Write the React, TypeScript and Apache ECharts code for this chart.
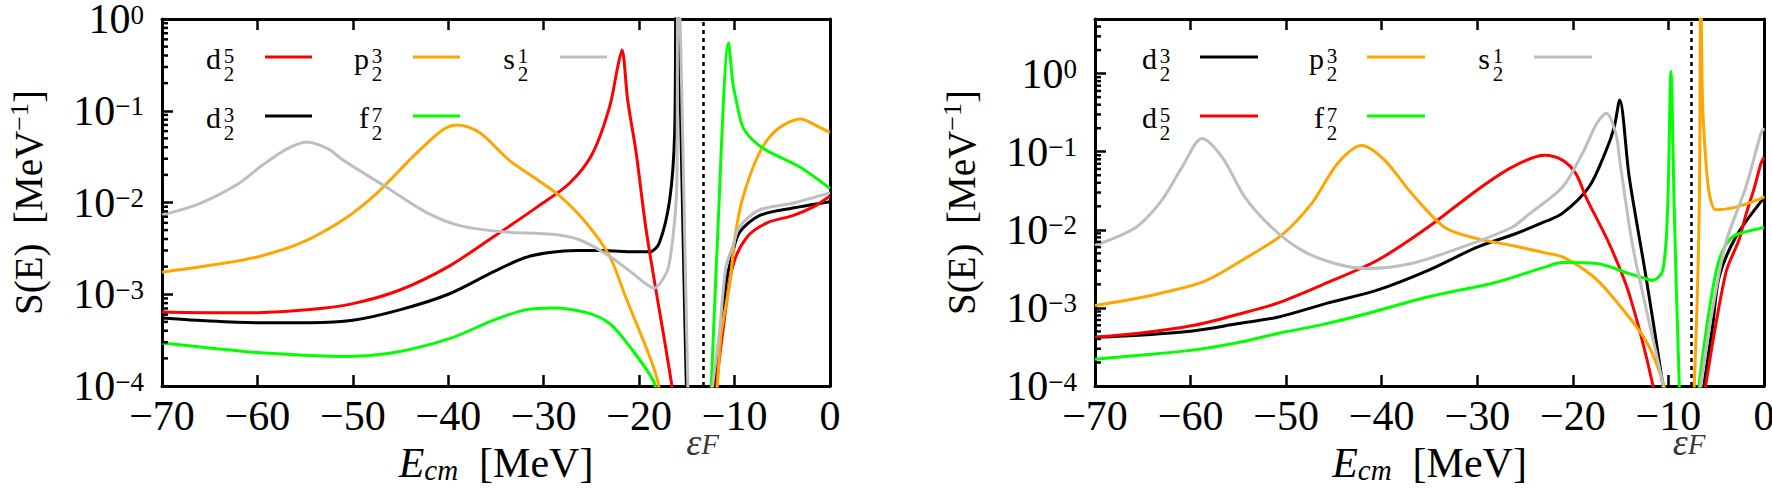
import React, { useEffect, useRef } from "react";
import * as echarts from "echarts";

const W = 1772;
const H = 489;
const FONT = "Liberation Serif";

// ---------------- data: [E_cm (MeV), S(E) (MeV^-1)] ----------------
// Left panel
const d52Left = [[-70,6.4e-4],[-65,6.3e-4],[-60,6.3e-4],[-54.5,6.8e-4],[-50,7.9e-4],[-45,1.12e-3],[-40,2.0e-3],[-35.3,4.2e-3],[-30.7,8.9e-3],[-27.3,0.0162],[-24.9,0.034],[-23.1,0.11],[-22.25,0.3],[-21.8,0.46],[-21.2,0.13],[-20.3,0.034],[-19.2,4.5e-3],[-16.6,1.05e-4],[-16.2,4e-5],[-12.2,4e-5],[-11.9,1e-4],[-11.25,3.8e-4],[-10.2,2.0e-3],[-8.7,4.2e-3],[-6.6,6.0e-3],[-3.9,7.2e-3],[-1.8,8.9e-3],[0,0.0118]];
const d32Left = [[-70,5.5e-4],[-65,5.1e-4],[-60,4.9e-4],[-54.5,4.9e-4],[-50,5.2e-4],[-45,6.8e-4],[-40,1.0e-3],[-35.3,1.75e-3],[-32,2.5e-3],[-29.4,2.85e-3],[-26.5,3.0e-3],[-23.8,3.0e-3],[-20.5,2.9e-3],[-18.9,2.9e-3],[-17.9,3.6e-3],[-16.8,0.0107],[-16.28,0.057],[-16.12,3],[-15.05,1e-4],[-14.9,4.5e-5],[-12.4,4.5e-5],[-12.1,1e-4],[-11.5,3.2e-4],[-10.9,1.3e-3],[-10.2,2.8e-3],[-9.5,4.7e-3],[-7.4,7.2e-3],[-3.9,8.7e-3],[0,0.0102]];
const p32Left = [[-70,1.74e-3],[-63.2,2.2e-3],[-59.7,2.6e-3],[-55.5,3.6e-3],[-51,6.5e-3],[-47.5,0.0126],[-43.7,0.0316],[-40.6,0.0617],[-39,0.07],[-36.7,0.0575],[-33.6,0.0288],[-30.7,0.0178],[-28.3,0.0117],[-25.5,5.9e-3],[-23.1,2.6e-3],[-21.3,8.7e-4],[-18.9,2.1e-4],[-18.0,1.07e-4],[-17.6,5e-5],[-12.1,4e-5],[-11.8,1e-4],[-11.4,3.8e-4],[-10.5,1.3e-3],[-10.0,3.9e-3],[-9.2,0.0107],[-7.4,0.0347],[-5.6,0.0617],[-3.1,0.0813],[-1.1,0.066],[0,0.058]];
const s12Left = [[-70,7.3e-3],[-66,0.0098],[-62,0.016],[-59.7,0.0245],[-57,0.038],[-54.8,0.0457],[-52.5,0.038],[-51,0.0288],[-46.4,0.0145],[-42.3,7.8e-3],[-38.8,5.6e-3],[-34.3,4.8e-3],[-29.1,4.5e-3],[-26.2,3.9e-3],[-23.1,2.6e-3],[-20.7,1.7e-3],[-18.4,1.17e-3],[-17.15,1.7e-3],[-16.8,2.3e-3],[-16.3,6e-3],[-16.05,0.016],[-15.92,3],[-14.89,1e-4],[-14.75,4.5e-5],[-12.6,4.5e-5],[-12.3,1e-4],[-11.6,3.8e-4],[-10.9,2.0e-3],[-10.2,3.3e-3],[-9.5,5.4e-3],[-7.4,8.3e-3],[-3.9,9.8e-3],[0,0.0128]];
const f72Left = [[-70,2.95e-4],[-65,2.6e-4],[-59.7,2.3e-4],[-51,2.1e-4],[-45.8,2.3e-4],[-39.8,3.3e-4],[-35.3,5.2e-4],[-31.8,6.8e-4],[-29,7.1e-4],[-25.5,6.3e-4],[-23.1,4.8e-4],[-21,2.7e-4],[-18.4,1.07e-4],[-18.0,5e-5],[-12.7,4e-5],[-12.44,1e-4],[-11.88,2.5e-3],[-10.63,0.55],[-10.18,0.2],[-9.83,0.13],[-9.15,0.067],[-8.1,0.048],[-6.65,0.037],[-3.2,0.0245],[0,0.0142]];
const fermiLeft = -13.25;

// Right panel
const d32Right = [[-70,4.2e-4],[-65,4.5e-4],[-59.6,5.1e-4],[-55,6.3e-4],[-50.9,7.6e-4],[-45.7,1.15e-3],[-40.4,1.7e-3],[-35.2,3.0e-3],[-30,6.0e-3],[-26,8.9e-3],[-23,0.0126],[-21.1,0.0162],[-18.3,0.0355],[-16.5,0.105],[-15.66,0.21],[-15.1,0.46],[-14.1,0.047],[-12.35,2.5e-3],[-10.6,1.07e-4],[-10.3,5e-5],[-6.6,5e-5],[-6.26,1.07e-4],[-5.39,5.7e-4],[-4.69,2.5e-3],[-2.95,8.1e-3],[-0.33,0.023],[0,0.025]];
const d52Right = [[-70,4.2e-4],[-65,4.8e-4],[-59.6,6.0e-4],[-55,8.3e-4],[-50.9,1.15e-3],[-45.7,2.1e-3],[-40.4,4.1e-3],[-35.2,0.0107],[-30,0.0324],[-26.4,0.063],[-23,0.09],[-21.1,0.078],[-19.67,0.052],[-18.62,0.026],[-16.19,6.6e-3],[-14.1,1.5e-3],[-11.66,1.07e-4],[-11.4,5e-5],[-6.4,5e-5],[-6.08,1.07e-4],[-4.0,2.8e-3],[-2.6,7.5e-3],[-1.9,0.0155],[-1.0,0.035],[-0.33,0.07],[0,0.085]];
const p32Right = [[-70,1.07e-3],[-66,1.3e-3],[-63,1.55e-3],[-58.5,2.2e-3],[-54.3,4.3e-3],[-50.5,8.5e-3],[-47.3,0.022],[-44.6,0.071],[-42.1,0.12],[-39.7,0.078],[-36.9,0.0295],[-33.4,0.0107],[-30,7.7e-3],[-26.4,6.3e-3],[-23,5.1e-3],[-21.1,4.5e-3],[-18,2.6e-3],[-15.84,1.38e-3],[-12.35,3.8e-4],[-10.44,1.0e-4],[-10.1,5e-5],[-7.6,5e-5],[-7.3,1e-4],[-6.78,0.018],[-6.62,20],[-6.44,0.46],[-6.1,0.08],[-5.7,0.028],[-5.03,0.018],[-2.95,0.0195],[-0.33,0.025],[0,0.027]];
const s12Right = [[-70,6.3e-3],[-67.5,8.3e-3],[-65.5,0.0112],[-63,0.024],[-60.9,0.063],[-58.8,0.148],[-56.7,0.085],[-54.3,0.026],[-51.5,0.0107],[-48.4,5.5e-3],[-44.9,3.7e-3],[-41.5,3.2e-3],[-36.9,3.7e-3],[-31.6,6.0e-3],[-26.4,0.0107],[-24.5,0.0162],[-21.1,0.035],[-19,0.095],[-17.5,0.23],[-16.5,0.31],[-15.5,0.17],[-15.1,0.078],[-13.8,6.8e-3],[-12.3,9.3e-4],[-10.6,1.07e-4],[-10.3,5e-5],[-6.9,5e-5],[-6.6,1.07e-4],[-5.4,9.3e-4],[-4.0,6.8e-3],[-1.9,0.035],[-0.33,0.17],[0,0.2]];
const f72Right = [[-70,2.2e-4],[-65,2.5e-4],[-59.6,2.9e-4],[-55,3.6e-4],[-50.9,4.7e-4],[-46,6.2e-4],[-42.1,8.1e-4],[-35.2,1.38e-3],[-28.2,2.1e-3],[-23,3.3e-3],[-21.1,3.8e-3],[-17.5,3.7e-3],[-14.1,2.75e-3],[-12.3,2.35e-3],[-11.66,2.25e-3],[-10.6,3.0e-3],[-10.09,0.018],[-9.74,1.06],[-9.39,0.018],[-8.87,1.07e-4],[-8.6,4e-5],[-7.1,4e-5],[-6.78,1.07e-4],[-5.73,9.3e-4],[-4.69,4.1e-3],[-3.3,8.1e-3],[-0.33,0.0105],[0,0.0107]];
const fermiRight = -7.62;

// axes
const xMin = -70;
const xMax = 0;
const xStep = 10;
const yMin = 1e-4;
const yMaxLeft = 1;
const yMaxRight = 5;
const minorMantissas = [2, 3, 4, 5, 6, 7, 8, 9];

const COLORS = { d52: "#ff0000", d32: "#000000", p32: "#ffa500", s12: "#bebebe", f72: "#00ff00" };

// legend entries (symbol, numerator, colour, column, row)
const legendLeft = [
  { sym: "d", num: "5", color: COLORS.d52, col: 0, row: 0 },
  { sym: "p", num: "3", color: COLORS.p32, col: 1, row: 0 },
  { sym: "s", num: "1", color: COLORS.s12, col: 2, row: 0 },
  { sym: "d", num: "3", color: COLORS.d32, col: 0, row: 1 },
  { sym: "f", num: "7", color: COLORS.f72, col: 1, row: 1 },
];
const legendRight = [
  { sym: "d", num: "3", color: COLORS.d32, col: 0, row: 0 },
  { sym: "p", num: "3", color: COLORS.p32, col: 1, row: 0 },
  { sym: "s", num: "1", color: COLORS.s12, col: 2, row: 0 },
  { sym: "d", num: "5", color: COLORS.d52, col: 0, row: 1 },
  { sym: "f", num: "7", color: COLORS.f72, col: 1, row: 1 },
];

// layout
const GRIDS = [
  { left: 162, top: 19, width: 668, height: 367 },
  { left: 1095, top: 19, width: 669, height: 367 },
];
const LEG_LAYOUT = [
  { fracX: [229, 377, 523], lineX1: [265, 413, 560], lineLen: 47, rows: [57, 116] },
  { fracX: [1165, 1332, 1498], lineX1: [1200, 1367, 1534], lineLen: 58, rows: [57, 116] },
];

const MINUS = "\u2212";

function minorTicks(maxV: number) {
  const out: number[][] = [];
  for (let e = -4; e <= 0; e++) {
    for (const m of minorMantissas) {
      const v = m * Math.pow(10, e);
      if (v < maxV) out.push([xMin, v]);
    }
  }
  return out;
}

function logLabel(v: number) {
  const e = Math.log10(v);
  const r = Math.round(e);
  if (Math.abs(e - r) > 1e-6) return "";
  return "{b|10}{s|" + (r < 0 ? MINUS + -r : String(r)) + "}";
}

function buildOption() {
  const axisLineStyle = { color: "#000", width: 3 };
  const xAxes: any[] = [];
  const yAxes: any[] = [];
  [0, 1].forEach((g) => {
    xAxes.push({
      gridIndex: g, type: "value", min: xMin, max: xMax, interval: xStep, position: "bottom",
      axisLine: { show: true, onZero: false, lineStyle: axisLineStyle },
      axisTick: { show: true, inside: true, length: 11, lineStyle: { color: "#000", width: 2.5 } },
      axisLabel: {
        show: true, margin: 9, color: "#000", fontFamily: FONT, fontSize: 42,
        formatter: (v: number) => (v < 0 ? MINUS + Math.abs(v) : String(v)),
      },
      splitLine: { show: false },
      name: "{i|E}{sub|cm}{r|  [MeV]}",
      nameLocation: "middle",
      nameGap: 54,
      nameTextStyle: {
        fontFamily: FONT,
        rich: {
          i: { fontFamily: FONT, fontStyle: "italic", fontSize: 42, lineHeight: 44, color: "#000" },
          sub: { fontFamily: FONT, fontStyle: "italic", fontSize: 29, lineHeight: 30, verticalAlign: "bottom", color: "#000" },
          r: { fontFamily: FONT, fontSize: 42, lineHeight: 44, color: "#000" },
        },
      },
    });
    xAxes.push({
      gridIndex: g, type: "value", min: xMin, max: xMax, interval: xStep, position: "top",
      axisLine: { show: true, onZero: false, lineStyle: axisLineStyle },
      axisTick: { show: true, inside: true, length: 11, lineStyle: { color: "#000", width: 2.5 } },
      axisLabel: { show: false },
      splitLine: { show: false },
    });
    const yMax = g === 0 ? yMaxLeft : yMaxRight;
    yAxes.push({
      gridIndex: g, type: "log", logBase: 10, min: yMin, max: yMax, position: "left",
      axisLine: { show: true, onZero: false, lineStyle: axisLineStyle },
      axisTick: { show: true, inside: true, length: 11, lineStyle: { color: "#000", width: 2.5 } },
      axisLabel: {
        show: true, margin: 18, formatter: logLabel, showMinLabel: true, showMaxLabel: true,
        fontFamily: FONT,
        rich: {
          b: { fontFamily: FONT, fontSize: 42, lineHeight: 36, color: "#000" },
          s: { fontFamily: FONT, fontSize: 27, lineHeight: 20, verticalAlign: "top", color: "#000" },
        },
      },
      splitLine: { show: false },
      minorTick: { show: false },
      name: "{r|S(E)  [MeV}{sup|" + MINUS + "1}{r|]}",
      nameLocation: "middle",
      nameRotate: 90,
      nameGap: 112,
      nameTextStyle: {
        fontFamily: FONT,
        rich: {
          r: { fontFamily: FONT, fontSize: 39, lineHeight: 44, color: "#000" },
          sup: { fontFamily: FONT, fontSize: 26, lineHeight: 22, verticalAlign: "top", color: "#000" },
        },
      },
    });
    yAxes.push({
      gridIndex: g, type: "log", logBase: 10, min: yMin, max: yMax, position: "right",
      axisLine: { show: true, onZero: false, lineStyle: axisLineStyle },
      axisTick: { show: false },
      axisLabel: { show: false },
      splitLine: { show: false },
    });
  });

  const line = (name: string, data: number[][], color: string, g: number) => ({
    type: "line", name, data, xAxisIndex: g * 2, yAxisIndex: g * 2,
    symbol: "none", showSymbol: false, smooth: 0.3, clip: true, silent: true,
    lineStyle: { color, width: 3 }, itemStyle: { color }, z: 3,
  });

  const fermi = (ef: number, g: number, dx: number) => ({
    type: "scatter", name: "εF", xAxisIndex: g * 2, yAxisIndex: g * 2,
    data: [[ef, yMin]], symbol: "circle", symbolSize: 1, clip: false, silent: true,
    itemStyle: { color: "rgba(0,0,0,0)" },
    label: {
      show: true, position: "inside", offset: [dx, 56], formatter: "{e|ε}{f|F}",
      fontFamily: FONT,
      rich: {
        e: { fontFamily: FONT, fontStyle: "italic", fontSize: 38, lineHeight: 32, color: "#000" },
        f: { fontFamily: FONT, fontStyle: "italic", fontSize: 29, lineHeight: 12, verticalAlign: "bottom", color: "#000" },
      },
    },
    markLine: {
      silent: true, symbol: ["none", "none"], label: { show: false },
      lineStyle: { color: "#000", width: 2.5, type: [4, 4] },
      data: [{ xAxis: ef }],
    },
    z: 4,
  });

  const minor = (g: number, maxV: number) => ({
    type: "custom", name: "minor ticks", xAxisIndex: g * 2, yAxisIndex: g * 2,
    data: minorTicks(maxV), clip: false, silent: true, z: 6,
    renderItem: (_p: any, api: any) => {
      const pt = api.coord([api.value(0), api.value(1)]);
      return {
        type: "line",
        shape: { x1: pt[0], y1: pt[1], x2: pt[0] + 6, y2: pt[1] },
        style: { stroke: "#000", lineWidth: 2.5 },
      };
    },
  });

  const series: any[] = [
    line("d3/2", d32Left, COLORS.d32, 0),
    line("d5/2", d52Left, COLORS.d52, 0),
    line("p3/2", p32Left, COLORS.p32, 0),
    line("f7/2", f72Left, COLORS.f72, 0),
    line("s1/2", s12Left, COLORS.s12, 0),
    fermi(fermiLeft, 0, -1),
    minor(0, yMaxLeft),
    line("d3/2", d32Right, COLORS.d32, 1),
    line("d5/2", d52Right, COLORS.d52, 1),
    line("p3/2", p32Right, COLORS.p32, 1),
    line("f7/2", f72Right, COLORS.f72, 1),
    line("s1/2", s12Right, COLORS.s12, 1),
    fermi(fermiRight, 1, -2),
    minor(1, yMaxRight),
  ];

  const graphics: any[] = [];
  [legendLeft, legendRight].forEach((entries, g) => {
    const L = LEG_LAYOUT[g];
    entries.forEach((en) => {
      const fx = L.fracX[en.col];
      const y = L.rows[en.row];
      graphics.push({
        type: "text", silent: true,
        style: { text: en.sym, x: fx - 8, y: y + 1, align: "right", verticalAlign: "middle", fontFamily: FONT, fontSize: 30, fill: "#000" },
      });
      graphics.push({
        type: "text", silent: true,
        style: { text: en.num, x: fx, y: y - 1, align: "center", verticalAlign: "middle", fontFamily: FONT, fontSize: 21, fill: "#000" },
      });
      graphics.push({
        type: "text", silent: true,
        style: { text: "2", x: fx, y: y + 17, align: "center", verticalAlign: "middle", fontFamily: FONT, fontSize: 21, fill: "#000" },
      });
      graphics.push({
        type: "line", silent: true,
        shape: { x1: L.lineX1[en.col], y1: y, x2: L.lineX1[en.col] + L.lineLen, y2: y },
        style: { stroke: en.color, lineWidth: 3 },
      });
    });
  });

  return {
    animation: false,
    backgroundColor: "#ffffff",
    textStyle: { fontFamily: FONT },
    grid: GRIDS.map((g) => ({ ...g, containLabel: false, outerBoundsMode: "none" })),
    xAxis: xAxes,
    yAxis: yAxes,
    series,
    graphic: graphics,
  };
}

export default function App() {
  const ref = useRef<HTMLDivElement>(null);
  useEffect(() => {
    if (!ref.current) return;
    const chart = echarts.init(ref.current, null, { renderer: "svg", width: W, height: H });
    chart.setOption(buildOption() as any);
    return () => {
      chart.dispose();
    };
  }, []);
  return (
    <div
      ref={ref}
      style={{ position: "absolute", left: 0, top: 0, width: W, height: H, background: "#fff" }}
    />
  );
}
